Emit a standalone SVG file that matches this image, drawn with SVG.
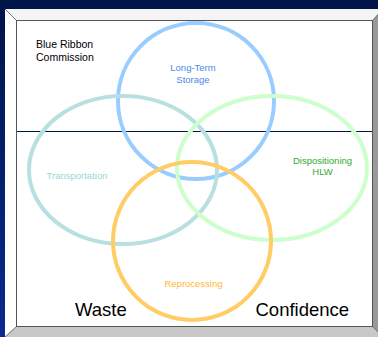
<svg xmlns="http://www.w3.org/2000/svg" width="378" height="337" viewBox="0 0 378 337">
<defs>
<linearGradient id="bg" x1="0" y1="0" x2="0" y2="1">
<stop offset="0" stop-color="#001448"/>
<stop offset="1" stop-color="#0a2a90"/>
</linearGradient>
</defs>
<style>
.c{fill:none;stroke-width:4}
.t{font-family:"Liberation Sans",Arial,sans-serif;text-anchor:middle;font-size:9.5px}
.b{font-family:"Liberation Sans",Arial,sans-serif;fill:#000}
</style>
<rect width="378" height="337" fill="url(#bg)"/>
<g id="frame">
<polygon points="5,9 383,9 373,20 16,20" fill="#f4f4f4"/>
<polygon points="5,9 16,20 16,327 5,337" fill="#ffffff"/>
<polygon points="373,20 383,9 383,337 373,327" fill="#999999"/>
<polygon points="16,327 373,327 383,337 5,337" fill="#c8c8c8"/>
<line x1="5" y1="9" x2="16" y2="20" stroke="#777" stroke-width="1"/>
<line x1="16" y1="327" x2="5" y2="337" stroke="#777" stroke-width="1"/>
<line x1="373" y1="327" x2="383" y2="337" stroke="#777" stroke-width="1"/>
<line x1="373" y1="20" x2="383" y2="9" stroke="#777" stroke-width="1"/>
<rect x="16.5" y="20.5" width="356" height="306" fill="#ffffff" stroke="#555" stroke-width="1"/>
</g>
<g id="connectors">
<line x1="17" y1="131.5" x2="372" y2="131.5" stroke="#001448" stroke-width="1"/>
</g>
<g id="blue-ribbon">
<text class="b" x="36" y="48" font-size="10.5px">Blue Ribbon</text>
<text class="b" x="36" y="61" font-size="10.5px">Commission</text>
</g>
<g id="long-term-storage">
<circle class="c" cx="196" cy="101" r="78" stroke="#99ccff"/>
<text class="t" x="193" y="71" fill="#4d88e6">Long-Term</text>
<text class="t" x="193" y="82.5" fill="#4d88e6">Storage</text>
</g>
<g id="transportation">
<ellipse class="c" cx="123" cy="170" rx="94" ry="74" stroke="#b8e0e0"/>
<text class="t" x="77" y="179" fill="#99d6d6">Transportation</text>
</g>
<g id="dispositioning">
<ellipse class="c" cx="272" cy="168" rx="95" ry="72" stroke="#ccffcc"/>
<text class="t" x="322.5" y="164" fill="#33aa33">Dispositioning</text>
<text class="t" x="322.5" y="175" fill="#33aa33">HLW</text>
</g>
<g id="reprocessing">
<circle class="c" cx="192" cy="241" r="79" stroke="#ffcc66"/>
<text class="t" x="193.5" y="287" fill="#ffb833">Reprocessing</text>
</g>
<g id="labels">
<text class="b" x="75" y="316" font-size="18.5px">Waste</text>
<text class="b" x="255.5" y="316" font-size="18.5px">Confidence</text>
</g>
</svg>
